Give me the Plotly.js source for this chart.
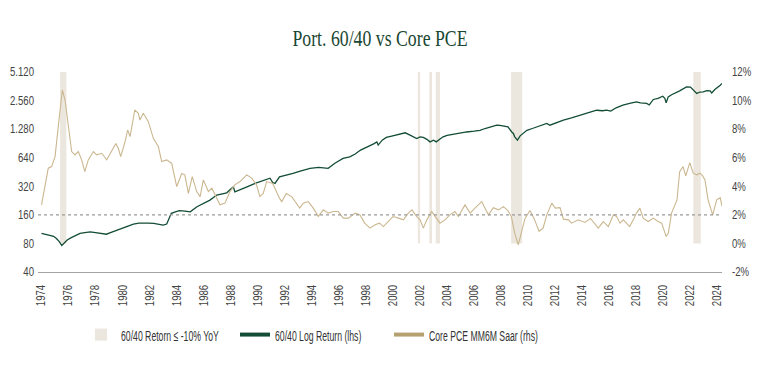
<!DOCTYPE html>
<html>
<head>
<meta charset="utf-8">
<script src="https://cdn.plot.ly/plotly-3.0.1.min.js"></script>
<style>
html,body{margin:0;padding:0;background:#fff;}
#chart{width:763px;height:366px;}
/* emulate the condensed faces of the original */
#chart .legendtext { transform: scaleX(0.56); transform-box: fill-box; transform-origin: 0% 50%; }
#chart .gtitle { transform: scaleX(0.74); transform-box: fill-box; transform-origin: 50% 50%; }
#chart g.ytick { transform: scaleX(0.8); transform-box: fill-box; transform-origin: 100% 50%; }
#chart g.y2tick { transform: scaleX(0.8); transform-box: fill-box; transform-origin: 0% 50%; }
#chart g.xtick { transform: scaleY(0.8); transform-box: fill-box; transform-origin: 50% 0%; }
</style>
</head>
<body>
<div id="chart"></div>
<script>
// ---- DATA ----
const chartTitle = "Port. 60/40 vs Core PCE";
const shadeName = "60/40 Retorn ≤ -10% YoY";
const logName = "60/40 Log Return (lhs)";
const pceName = "Core PCE MM6M Saar (rhs)";

// Periods where the 60/40 return was <= -10% YoY (decimal years)
const shadeStart = [1975.37, 2001.83, 2002.68, 2003.16, 2008.73, 2022.21];
const shadeEnd   = [1975.84, 2002.00, 2002.88, 2003.47, 2009.55, 2022.76];
const shadeBottom = 80;    // lhs value aligned with 0% on rhs
const shadeTop = 5120;     // lhs value aligned with 12% on rhs

// 60/40 log return index (lhs, log scale)
const logYears = [1974.0,1974.3,1974.6,1974.9,1975.1,1975.3,1975.5,1975.7,1975.9,1976.2,1976.5,1976.85,1977.2,1977.6,1978.0,1978.4,1978.8,1979.2,1979.56,1980.0,1980.4,1980.8,1981.2,1981.5,1981.9,1982.3,1982.7,1983.0,1983.26,1983.45,1983.6,1983.9,1984.2,1984.6,1985.0,1985.5,1986.0,1986.46,1986.96,1987.4,1987.7,1988.0,1988.19,1988.3,1988.7,1989.2,1989.9,1990.16,1990.4,1990.9,1991.1,1991.27,1991.6,1992.1,1992.6,1993.2,1993.86,1994.5,1995.2,1995.7,1996.3,1996.8,1997.2,1997.6,1998.0,1998.3,1998.6,1998.8,1998.9,1999.2,1999.5,1999.9,2000.27,2000.6,2000.9,2001.26,2001.5,2001.75,2002.0,2002.24,2002.5,2002.73,2003.0,2003.2,2003.45,2003.7,2004.0,2004.46,2005.0,2005.45,2006.0,2006.43,2006.8,2007.17,2007.67,2007.9,2008.2,2008.5,2008.78,2008.9,2009.0,2009.2,2009.4,2009.76,2009.9,2010.3,2010.6,2011.0,2011.37,2011.6,2012.0,2012.6,2013.2,2013.8,2014.4,2015.06,2015.5,2015.8,2016.1,2016.5,2017.0,2017.5,2018.0,2018.3,2018.76,2018.95,2019.25,2019.6,2019.95,2020.1,2020.2,2020.35,2020.6,2021.2,2021.7,2022.0,2022.2,2022.46,2022.7,2022.95,2023.2,2023.45,2023.57,2023.8,2024.2,2024.33];
const logValues = [102,100,98,95,90,84,76,82,87,92,97,102,104,106,104,102,100,105,109,116,122,128,131,132,131,130,127,125,128,150,166,172,177,175,172,195,212,229,259,268,273,300,316,280,298,316,348,357,372,389,350,343,402,418,437,465,494,506,494,560,630,654,700,770,820,847,900,940,869,980,1048,1080,1107,1150,1171,1107,1070,1020,1060,1048,1000,940,980,940,1000,1062,1100,1134,1160,1195,1220,1245,1300,1352,1408,1400,1380,1352,1195,1153,1062,980,1088,1195,1245,1300,1352,1420,1470,1408,1480,1590,1680,1797,1900,2025,2000,2025,1980,2150,2290,2390,2476,2420,2390,2300,2630,2700,2845,2700,2420,2800,2950,3240,3570,3550,3350,3046,3150,3160,3250,3240,3080,3350,3720,3880];

// Core PCE MM6M SAAR (rhs, %)
const pceYears = [1974.0,1974.26,1974.5,1974.75,1975.0,1975.24,1975.54,1975.74,1975.98,1976.23,1976.48,1976.72,1976.97,1977.2,1977.46,1977.83,1978.08,1978.45,1978.82,1979.2,1979.5,1979.68,1979.86,1980.18,1980.37,1980.55,1980.9,1981.16,1981.28,1981.53,1981.9,1982.27,1982.64,1982.89,1983.26,1983.63,1984.0,1984.37,1984.6,1984.86,1985.15,1985.48,1985.73,1985.97,1986.34,1986.6,1986.84,1987.2,1987.57,1987.94,1988.3,1988.68,1989.18,1989.55,1989.9,1990.15,1990.4,1990.65,1991.1,1991.4,1991.6,1991.77,1992.1,1992.5,1992.87,1993.1,1993.36,1993.73,1994.1,1994.47,1994.84,1995.2,1995.58,1995.95,1996.32,1996.7,1997.2,1997.56,1997.9,1998.3,1998.67,1999.0,1999.28,1999.65,2000.0,2000.4,2000.76,2001.13,2001.4,2001.75,2002.0,2002.24,2002.5,2002.86,2003.1,2003.47,2003.84,2004.2,2004.58,2004.83,2005.32,2005.7,2006.06,2006.56,2006.8,2007.05,2007.42,2007.8,2008.16,2008.5,2008.75,2009.0,2009.26,2009.5,2009.76,2010.13,2010.45,2010.8,2011.1,2011.37,2011.74,2012.0,2012.35,2012.6,2012.97,2013.2,2013.7,2014.2,2014.6,2015.18,2015.55,2015.92,2016.3,2016.54,2016.79,2017.03,2017.28,2017.5,2017.77,2018.0,2018.26,2018.5,2018.87,2019.25,2019.6,2019.87,2020.2,2020.36,2020.6,2020.85,2021.0,2021.2,2021.45,2021.65,2021.95,2022.2,2022.46,2022.7,2022.9,2023.07,2023.3,2023.64,2023.94,2024.2,2024.33];
const pceValues = [2.7,4.2,5.27,5.38,6.08,8.18,10.74,10.04,8.18,6.43,6.2,6.43,5.85,5.03,5.85,6.43,6.2,6.31,5.85,6.55,7.0,6.66,6.08,7.13,7.94,7.48,9.34,9.11,8.64,9.11,8.52,7.36,6.78,5.73,5.85,5.6,3.98,4.9,4.8,3.5,4.68,3.63,3.28,4.45,3.63,3.87,3.4,2.7,2.82,3.63,4.1,4.33,4.8,4.57,4.1,3.28,3.5,4.33,4.2,3.5,3.17,2.93,3.5,3.28,2.82,2.47,2.82,2.93,2.47,1.88,2.35,2.12,2.23,2.23,1.77,1.77,2.12,2.0,1.42,1.07,1.3,1.42,1.18,1.53,1.88,1.77,1.65,2.12,2.35,1.88,1.65,1.07,1.65,2.23,1.88,1.42,1.65,2.0,2.23,1.88,2.7,2.12,2.47,2.93,2.47,2.0,2.5,2.35,2.58,2.3,1.88,0.72,-0.1,0.72,1.75,2.3,1.7,0.85,1.07,2.0,2.82,2.47,2.5,1.7,1.65,1.42,1.65,1.47,1.75,1.07,1.53,1.18,2.0,1.88,1.42,1.65,1.42,1.18,1.65,2.12,2.47,1.77,1.53,1.77,1.53,1.42,0.48,0.72,2.12,2.7,3.05,5.03,5.38,4.73,5.66,4.92,4.8,4.92,4.73,4.45,3.05,2.0,3.05,3.2,2.6];

const refLevel = 2; // 2% reference (dotted line)

// Tick labels
const xTickVals = [1974,1976,1978,1980,1982,1984,1986,1988,1990,1992,1994,1996,1998,2000,2002,2004,2006,2008,2010,2012,2014,2016,2018,2020,2022,2024];
const xTickText = xTickVals.map(String);
const yTickVals = [40,80,160,320,640,1280,2560,5120];
const yTickText = ["40","80","160","320","640","1.280","2.560","5.120"];
const y2TickVals = [-2,0,2,4,6,8,10,12];
const y2TickText = ["-2%","0%","2%","4%","6%","8%","10%","12%"];

// ---- STYLE ----
const C_GREEN = "#134d35";
const C_TAN = "#cbb78f";
const C_TAN_LEG = "#b5a06f";
const C_SHADE = "#ece7de";
const FONT_SANS = "'Liberation Sans', Arial, sans-serif";
const FONT_SERIF = "'Liberation Serif', 'DejaVu Serif', serif";

const shadeX = shadeStart.map((s,i)=> (s + shadeEnd[i]) / 2);
const shadeW = shadeStart.map((s,i)=> shadeEnd[i] - s);

const traces = [
  {
    type: "bar", name: shadeName,
    x: shadeX, width: shadeW,
    base: shadeX.map(()=>shadeBottom),
    y: shadeX.map(()=>shadeTop - shadeBottom),
    xaxis: "x", yaxis: "y",
    marker: {color: C_SHADE, line: {width: 0}},
    showlegend: true, hoverinfo: "skip"
  },
  {
    type: "scatter", mode: "lines", name: logName,
    x: logYears, y: logValues, xaxis: "x", yaxis: "y",
    line: {color: C_GREEN, width: 1.3}, showlegend: false
  },
  {
    type: "scatter", mode: "lines", name: pceName,
    x: pceYears, y: pceValues, xaxis: "x", yaxis: "y2",
    line: {color: C_TAN, width: 1.1}, showlegend: false
  },
  {
    type: "scatter", mode: "lines", name: logName,
    x: [null], y: [null], xaxis: "x", yaxis: "y",
    line: {color: C_GREEN, width: 4}, showlegend: true
  },
  {
    type: "scatter", mode: "lines", name: pceName,
    x: [null], y: [null], xaxis: "x", yaxis: "y",
    line: {color: C_TAN_LEG, width: 4}, showlegend: true
  }
];

const tickFont = {family: FONT_SANS, size: 12, color: "#444"};

const layout = {
  width: 763, height: 366,
  paper_bgcolor: "#ffffff", plot_bgcolor: "#ffffff",
  margin: {l: 38, r: 41, t: 72, b: 94, pad: 0},
  title: {
    text: chartTitle,
    font: {family: FONT_SERIF, size: 24, color: "#1a4731"},
    x: 0.5, xanchor: "center", xref: "paper",
    y: 1 - 38/366, yanchor: "middle", yref: "container"
  },
  showlegend: true,
  legend: {
    orientation: "h", x: 0.0629, xanchor: "left", y: -0.315, yanchor: "middle",
    font: {family: FONT_SANS, size: 15.5, color: "#333"},
    entrywidth: 109, entrywidthmode: "pixels",
    bgcolor: "rgba(0,0,0,0)", traceorder: "normal"
  },
  barmode: "overlay",
  xaxis: {
    type: "linear", range: [1973.74, 2024.33],
    tickmode: "array", tickvals: xTickVals, ticktext: xTickText,
    tickangle: -90, tickfont: tickFont,
    ticks: "", ticklabelstandoff: 7,
    showgrid: false, zeroline: false,
    showline: true, linecolor: "#a3a3a3", linewidth: 1
  },
  yaxis: {
    type: "log", range: [Math.log10(40), Math.log10(5120)],
    tickmode: "array", tickvals: yTickVals, ticktext: yTickText,
    tickfont: tickFont, ticks: "", ticklabelstandoff: 3,
    showgrid: false, zeroline: false, showline: false
  },
  yaxis2: {
    overlaying: "y", side: "right", range: [-2, 12],
    tickmode: "array", tickvals: y2TickVals, ticktext: y2TickText,
    tickfont: tickFont, ticks: "", ticklabelstandoff: 9,
    showgrid: false, zeroline: false, showline: false
  },
  shapes: [{
    type: "line", xref: "paper", x0: 0, x1: 1, yref: "y2", y0: refLevel, y1: refLevel,
    line: {color: "#9a9a9a", width: 1.3, dash: "dot"}, layer: "above"
  }]
};

Plotly.newPlot("chart", traces, layout, {displayModeBar: false, staticPlot: true});
</script>
</body>
</html>
